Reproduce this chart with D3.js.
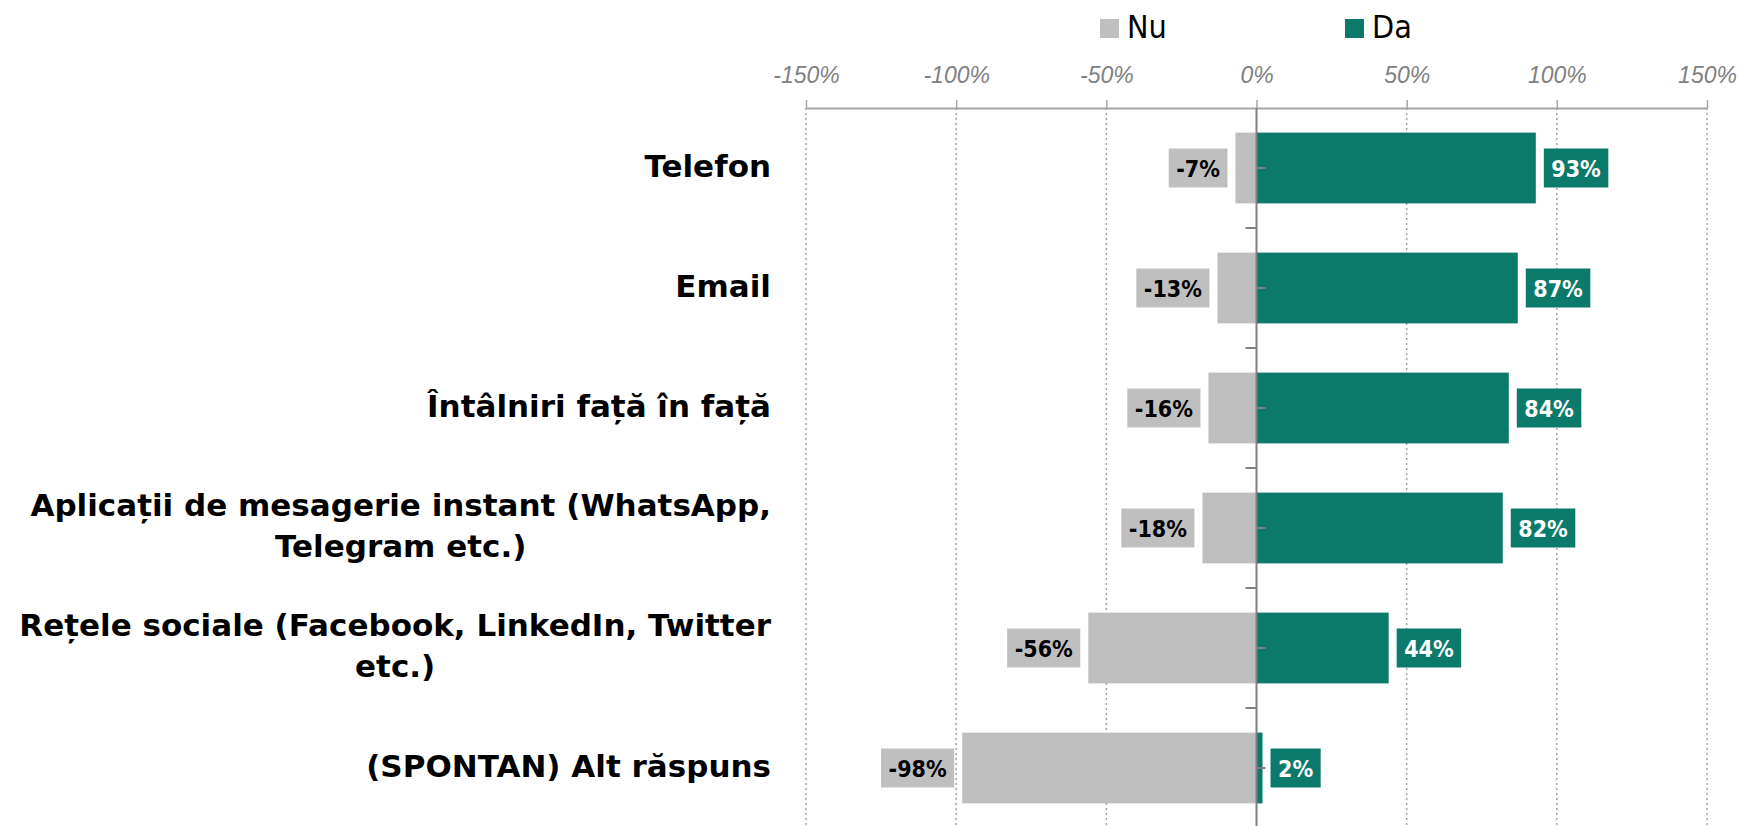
<!DOCTYPE html>
<html lang="ro">
<head>
  <meta charset="UTF-8" />
  <title>Canale de comunicare</title>
  <script src="https://d3js.org/d3.v7.min.js"></script>
  <style>
    body {
      margin: 0;
      background: #fff;
    }
    svg {
      display: block;
      font-family: "DejaVu Sans Condensed", "DejaVu Sans", sans-serif;
    }
    .cat-label {
      font-family: "DejaVu Sans", sans-serif;
      font-weight: bold;
      font-size: 31px;
      fill: #000;
    }
    .tick-label {
      font-style: italic;
      font-size: 23px;
      fill: #808080;
    }
    .val-label {
      font-weight: bold;
      font-size: 23px;
    }
    .legend-text {
      font-size: 32px;
      fill: #000;
    }
  </style>
</head>
<body>
  <div id="chart"></div>
  <script>
    // date
    const categories = [
      "Telefon",
      "Email",
      "Întâlniri față în față",
      "Aplicații de mesagerie instant (WhatsApp,\nTelegram etc.)",
      "Rețele sociale (Facebook, LinkedIn, Twitter\netc.)",
      "(SPONTAN) Alt răspuns"
    ];
    const nuValues = [-7, -13, -16, -18, -56, -98];
    const daValues = [93, 87, 84, 82, 44, 2];
    const seriesNames = ["Nu", "Da"];
    const tickValues = [-150, -100, -50, 0, 50, 100, 150];

    const width = 1740;
    const height = 826;
    const grey = "#bfbfbf";
    const teal = "#0c7a6b";

    const svg = d3.select("#chart")
      .append("svg")
      .attr("width", width)
      .attr("height", height);

    const x = d3.scaleLinear()
      .domain([-150, 150])
      .range([806, 1707]);

    const y = d3.scaleBand()
      .domain(categories)
      .range([108, 828])
      .paddingInner(0.41)
      .paddingOuter(0.205);

    // linii de grila punctate
    svg.append("g")
      .selectAll("line")
      .data(tickValues.filter(d => d !== 0))
      .enter()
      .append("line")
      .attr("x1", d => x(d))
      .attr("x2", d => x(d))
      .attr("y1", 108)
      .attr("y2", height)
      .attr("stroke", "#a0a0a0")
      .attr("stroke-width", 1.5)
      .attr("stroke-dasharray", "2,3");

    // axa de sus
    const axis = svg.append("g")
      .attr("transform", "translate(0,108)")
      .call(d3.axisTop(x)
        .tickValues(tickValues)
        .tickSizeInner(8)
        .tickSizeOuter(0)
        .tickPadding(17)
        .tickFormat(d => d + "%"));
    axis.select(".domain").attr("stroke", "#a6a6a6").attr("stroke-width", 2);
    axis.selectAll(".tick line").attr("stroke", "#a6a6a6").attr("stroke-width", 1.5);
    axis.selectAll(".tick text")
      .attr("class", "tick-label")
      .attr("font-family", null)
      .attr("font-size", null)
      .attr("fill", null);

    // bare Nu
    svg.append("g")
      .selectAll("rect")
      .data(categories)
      .enter()
      .append("rect")
      .attr("x", (d, i) => x(nuValues[i]))
      .attr("y", d => y(d))
      .attr("width", (d, i) => x(0) - x(nuValues[i]))
      .attr("height", y.bandwidth())
      .attr("fill", grey);

    // bare Da
    svg.append("g")
      .selectAll("rect")
      .data(categories)
      .enter()
      .append("rect")
      .attr("x", x(0))
      .attr("y", d => y(d))
      .attr("width", (d, i) => x(daValues[i]) - x(0))
      .attr("height", y.bandwidth())
      .attr("fill", teal);

    // axa zero si marcaje
    svg.append("line")
      .attr("x1", x(0)).attr("x2", x(0))
      .attr("y1", 108).attr("y2", height)
      .attr("stroke", "#808080")
      .attr("stroke-width", 2);

    const step = y.step();
    svg.append("g")
      .selectAll("line")
      .data(categories.slice(1))
      .enter()
      .append("line")
      .attr("x1", x(0) - 11)
      .attr("x2", x(0))
      .attr("y1", d => y(d) - step * y.paddingInner() / 2)
      .attr("y2", d => y(d) - step * y.paddingInner() / 2)
      .attr("stroke", "#808080")
      .attr("stroke-width", 2);

    svg.append("g")
      .selectAll("line")
      .data(categories)
      .enter()
      .append("line")
      .attr("x1", x(0))
      .attr("x2", x(0) + 9)
      .attr("y1", d => y(d) + y.bandwidth() / 2)
      .attr("y2", d => y(d) + y.bandwidth() / 2)
      .attr("stroke", "#808080")
      .attr("stroke-width", 2);

    // etichete valori
    function addLabels(values, isNu) {
      const g = svg.append("g");
      categories.forEach((c, i) => {
        const cy = y(c) + y.bandwidth() / 2;
        const t = g.append("text")
          .attr("class", "val-label")
          .attr("text-anchor", "middle")
          .attr("fill", isNu ? "#000" : "#fff")
          .text(values[i] + "%");
        const w = t.node().getComputedTextLength() + 15;
        const bx = isNu ? x(values[i]) - 8 - w : x(values[i]) + 8;
        g.insert("rect", "text")
          .attr("x", bx)
          .attr("y", cy - 19.5)
          .attr("width", w)
          .attr("height", 39)
          .attr("fill", isNu ? grey : teal);
        t.attr("x", bx + w / 2).attr("y", cy + 8.5);
      });
    }
    addLabels(nuValues, true);
    addLabels(daValues, false);

    // etichete categorii
    const labelRight = 771;
    const lineH = 41;
    categories.forEach(c => {
      const lines = c.split("\n");
      const cy = y(c) + y.bandwidth() / 2;
      const t = svg.append("text")
        .attr("class", "cat-label")
        .attr("text-anchor", "middle");
      lines.forEach((ln, j) => {
        t.append("tspan")
          .attr("y", cy + 8.5 + (j - (lines.length - 1) / 2) * lineH)
          .text(ln);
      });
      let maxW = 0;
      t.selectAll("tspan").each(function() {
        maxW = Math.max(maxW, this.getComputedTextLength());
      });
      t.selectAll("tspan").attr("x", labelRight - maxW / 2);
    });

    // legenda
    const legend = svg.append("g");
    const legendX = [1100, 1345];
    seriesNames.forEach((s, i) => {
      legend.append("rect")
        .attr("x", legendX[i])
        .attr("y", 19)
        .attr("width", 19)
        .attr("height", 19)
        .attr("fill", i === 0 ? grey : teal);
      legend.append("text")
        .attr("class", "legend-text")
        .attr("x", legendX[i] + 27)
        .attr("y", 38)
        .text(s);
    });
  </script>
</body>
</html>
